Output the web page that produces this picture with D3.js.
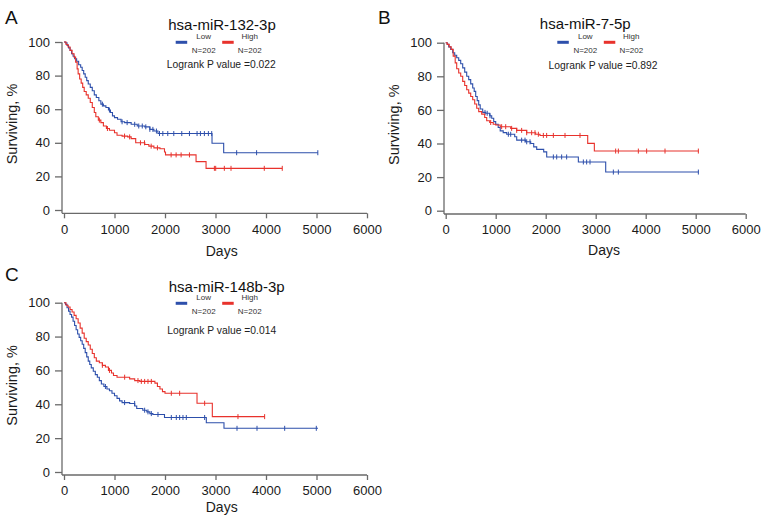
<!DOCTYPE html>
<html><head><meta charset="utf-8">
<script src="https://cdn.jsdelivr.net/npm/d3@7"></script>
<style>
html,body{margin:0;padding:0;background:#fff;}
svg{display:block;font-family:"Liberation Sans",Arial,sans-serif;}
</style></head><body>
<svg id="chart" width="770" height="526"></svg>
<script>
// ---------- data ----------
const xTicks = [0, 1000, 2000, 3000, 4000, 5000, 6000];
const yTicks = [0, 20, 40, 60, 80, 100];
const titles = ["hsa-miR-132-3p", "hsa-miR-7-5p", "hsa-miR-148b-3p"];
const pValues = ["0.022", "0.892", "0.014"];
const panelLabels = ["A", "B", "C"];
const groupNames = ["Low", "High"];
const groupN = [202, 202];

// Kaplan-Meier step points [day, surviving %]
const aLow = [[0,100],[30,99.5],[60,98],[90,96.5],[120,95],[150,93],[180,91.5],[210,90],[250,88.5],[290,86.5],[330,85],[360,83],[390,81],[420,79],[450,77],[480,75],[520,73],[560,71],[600,68.5],[640,67],[690,65],[730,63],[780,62],[830,61],[880,59.5],[920,58],[960,56],[1000,55],[1060,54],[1130,52.5],[1200,52],[1330,51],[1450,50],[1600,49.5],[1700,48],[1780,47],[1860,45.5],[2931,39.7],[3162,34.1],[5026,34.1]];
const aHigh = [[0,100],[40,98.5],[80,97],[120,95],[160,93],[200,91],[230,88],[260,84],[280,81],[310,78],[340,75.5],[370,73],[400,70.5],[440,68.5],[480,66.5],[520,64],[560,61],[600,58],[630,55.5],[680,53.5],[730,52],[780,50],[840,48.5],[900,47.5],[1000,46],[1050,44.5],[1150,44],[1260,43.5],[1330,42.5],[1420,40],[1600,39],[1680,38],[1780,37],[1900,36.5],[1990,34.5],[2010,32.8],[2615,28.8],[2813,24.8],[4322,24.8]];
const bLow = [[0,100],[30,99],[60,97.5],[100,96],[140,94],[180,92.5],[220,91],[260,89.5],[300,87.5],[340,85],[380,82.5],[420,80],[460,78],[500,75.5],[540,73],[570,71],[600,68],[630,65.5],[660,63],[690,60.5],[740,58.5],[800,58],[880,56.5],[920,55],[960,53],[1000,51.5],[1050,49.5],[1090,47.5],[1150,46.5],[1220,45.5],[1380,44],[1420,42],[1600,41],[1700,40],[1760,38],[1820,36.5],[1960,35],[2020,32],[2653,29],[3200,23],[5060,23]];
const bHigh = [[0,100],[30,99],[70,97.5],[110,96],[150,92],[190,88],[220,84.5],[260,82],[300,80],[340,77],[380,74.5],[420,72],[460,70],[500,68],[540,66],[580,63.5],[620,61],[660,59],[720,57.5],[780,55.5],[820,53.5],[880,52.5],[950,51.5],[1000,51],[1090,50],[1300,49],[1420,47.8],[1620,46.4],[1800,45.5],[1886,44.8],[2840,40.1],[2973,35.5],[5060,35.5]];
const cLow = [[0,100],[30,99],[60,97],[90,95],[120,93],[150,91.5],[180,89],[210,86.5],[240,84],[270,81.5],[300,79.5],[330,77.5],[360,75.5],[390,73],[420,70.5],[450,68],[480,65.5],[510,63.5],[540,61.5],[580,59.5],[620,57.5],[660,56],[700,54],[740,52],[790,50.5],[850,49],[900,48],[950,46.5],[1000,45],[1050,43.5],[1100,42],[1150,41],[1300,40.5],[1400,39],[1440,37.5],[1560,36.5],[1640,35.5],[1700,34.5],[1760,34],[1990,32.2],[2818,29.1],[3168,25.8],[5030,25.8]];
const cHigh = [[0,100],[40,98.5],[80,97.5],[120,96],[160,94.5],[200,92.5],[240,90.5],[280,88],[320,85],[360,82],[400,79],[440,77],[480,75],[520,72.5],[560,70],[600,67.5],[640,65.5],[700,64.5],[760,63],[820,62],[880,60],[940,58.5],[980,57],[1050,56],[1300,55],[1400,54],[1500,53.5],[1800,52.5],[1850,50.5],[1900,49],[1950,47.5],[2000,46.5],[2634,40.6],[2937,32.7],[3974,32.7]];

// censored observations (days)
const aLowCens = [760,900,1150,1250,1400,1480,1550,1620,1700,1760,1830,1891,1957,2055,2174,2332,2484,2635,2701,2780,2859,2925,3419,3814,5026];
const aHighCens = [700,860,1199,1300,1514,1594,1726,1850,2121,2220,2319,2484,2978,3004,3175,3307,3966,4322];
const bLowCens = [786,830,886,1253,1300,1519,1586,1620,1686,2153,2220,2319,2419,2753,2819,2886,3353,3453,5053];
const bHighCens = [900,1119,1200,1319,1420,1519,1620,1719,1786,1853,1953,2019,2153,2386,2686,3399,3453,3853,4019,4386,5053];
const cLowCens = [820,1200,1399,1597,1663,1729,1861,2125,2224,2290,2356,2422,2785,3426,3822,4370,4996];
const cHighCens = [760,900,1201,1465,1531,1597,1663,1729,2125,2290,2785,3445,3973];

// ---------- layout ----------
const BLUE = "#2d4fab", RED = "#e8322c", AXIS = "#6a6a6a", TEXT = "#1a1a1a";
const panels = [
  {low:aLow, high:aHigh, lowC:aLowCens, highC:aHighCens, xr:[64,367], yr:[210,42], axX:62, axY:213.3, lbl:[5,24], titleX:222, titleY:29.5, legX:175.7, legY:42.3, pX:221.3, pY:68, daysX:221.7, daysY:255.5},
  {low:bLow, high:bHigh, lowC:bLowCens, highC:bHighCens, xr:[445.7,745.7], yr:[210.7,42.7], axX:444, axY:214, lbl:[378,24], titleX:585.3, titleY:29, legX:557.3, legY:42.3, pX:603, pY:68.7, daysX:604, daysY:254.5},
  {low:cLow, high:cHigh, lowC:cLowCens, highC:cHighCens, xr:[64,367], yr:[472,302.7], axX:62, axY:475, lbl:[5,281], titleX:226.7, titleY:291.5, legX:175.7, legY:303.3, pX:221.7, pY:333.7, daysX:221.7, daysY:512}
];

const svg = d3.select("#chart");

panels.forEach((p, i) => {
  const g = svg.append("g");
  const x = d3.scaleLinear().domain([0, 6000]).range(p.xr);
  const y = d3.scaleLinear().domain([0, 100]).range(p.yr);

  // axes
  const xa = g.append("g").attr("transform", `translate(0,${p.axY})`)
    .call(d3.axisBottom(x).tickValues(xTicks).tickFormat(d3.format("d")).tickSize(5).tickSizeOuter(0).tickPadding(6));
  const ya = g.append("g").attr("transform", `translate(${p.axX},0)`)
    .call(d3.axisLeft(y).tickValues(yTicks).tickFormat(d3.format("d")).tickSize(7).tickSizeOuter(0).tickPadding(5));
  [xa, ya].forEach(a => {
    a.select(".domain").remove();
    a.selectAll("line").attr("stroke", AXIS).attr("stroke-width", 1.3);
    a.selectAll("text").attr("fill", TEXT).style("font-size", "13px")
      .style("font-family", '"Liberation Sans",Arial,sans-serif');
  });
  g.append("line").attr("x1", p.axX).attr("x2", x(6000)).attr("y1", p.axY).attr("y2", p.axY)
    .attr("stroke", AXIS).attr("stroke-width", 1.3);
  g.append("line").attr("x1", p.axX).attr("x2", p.axX).attr("y1", y(100)).attr("y2", p.axY)
    .attr("stroke", AXIS).attr("stroke-width", 1.3);

  // axis titles
  g.append("text").attr("x", p.daysX).attr("y", p.daysY).attr("text-anchor", "middle")
    .attr("fill", TEXT).style("font-size", "14px").text("Days");
  const cy = (p.yr[0] + p.yr[1]) / 2 - 2;
  g.append("text").attr("transform", `translate(${p.axX - 45},${cy}) rotate(-90)`)
    .attr("text-anchor", "middle").attr("fill", TEXT).style("font-size", "14.5px").text("Surviving, %");

  // panel label
  g.append("text").attr("x", p.lbl[0]).attr("y", p.lbl[1]).attr("fill", "#111")
    .style("font-size", "19px").text(panelLabels[i]);

  // title
  g.append("text").attr("x", p.titleX).attr("y", p.titleY).attr("text-anchor", "middle")
    .attr("fill", "#111").style("font-size", "15px").text(titles[i]);

  // legend
  const leg = [{c:BLUE, dx:0, tx:28}, {c:RED, dx:46.5, tx:74}];
  leg.forEach((l, k) => {
    g.append("line").attr("x1", p.legX + l.dx).attr("x2", p.legX + l.dx + 11.5)
      .attr("y1", p.legY).attr("y2", p.legY).attr("stroke", l.c).attr("stroke-width", 3);
    g.append("text").attr("x", p.legX + l.tx).attr("y", p.legY - 3).attr("text-anchor", "middle")
      .attr("fill", "#333").style("font-size", "8px").text(groupNames[k]);
    g.append("text").attr("x", p.legX + l.tx).attr("y", p.legY + 10.5).attr("text-anchor", "middle")
      .attr("fill", "#333").style("font-size", "8px").text("N=" + groupN[k]);
  });
  g.append("text").attr("x", p.pX).attr("y", p.pY).attr("text-anchor", "middle")
    .attr("fill", "#222").style("font-size", "10.3px").text("Logrank P value =" + pValues[i]);

  // curves
  const line = d3.line().x(d => x(d[0])).y(d => y(d[1])).curve(d3.curveStepAfter);
  const survAt = (pts, t) => { let s = pts[0][1]; for (const q of pts) { if (q[0] <= t) s = q[1]; else break; } return s; };
  [{pts:p.low, cens:p.lowC, c:BLUE}, {pts:p.high, cens:p.highC, c:RED}].forEach(s => {
    g.append("path").datum(s.pts).attr("d", line).attr("fill", "none")
      .attr("stroke", s.c).attr("stroke-width", 1.1);
    g.selectAll(null).data(s.cens).enter().append("line")
      .attr("x1", d => x(d)).attr("x2", d => x(d))
      .attr("y1", d => y(survAt(s.pts, d)) - 2.5).attr("y2", d => y(survAt(s.pts, d)) + 2.5)
      .attr("stroke", s.c).attr("stroke-width", 1);
  });
});
</script>
</body></html>
